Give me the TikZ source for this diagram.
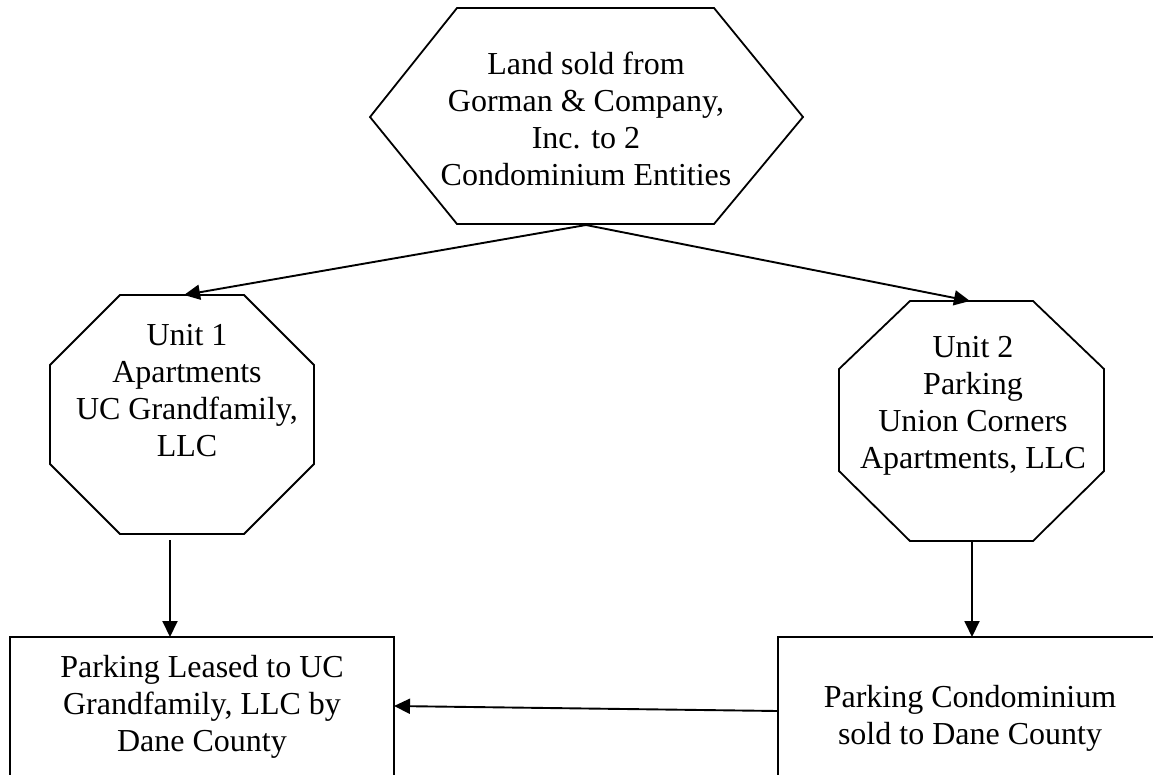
\documentclass[tikz,border=0pt]{standalone}
\usepackage{fontspec}
\setmainfont{Liberation Serif}
\usetikzlibrary{arrows.meta}
\tikzset{
  shapeline/.style={draw=black, line width=1.8pt, line join=miter},
  label text/.style={font=\fontsize{32}{37}\selectfont, align=center, inner sep=0pt},
  flow/.style={draw=black, line width=1.9pt, -{Triangle[length=16pt,width=15pt]}},
}
\begin{document}
\begin{tikzpicture}[x=1pt,y=-1pt]
\clip (0,0) rectangle (1153,774);
\fill[white] (0,0) rectangle (1153,774);
% hexagon
\draw[shapeline] (457,8) -- (714,8) -- (803,117) -- (714,224) -- (457,224) -- (370,117) -- cycle;
\node[label text] (land) at (586,119) {Land sold from\\Gorman \& Company,\\Inc. to 2\\Condominium Entities};
% left octagon
\draw[shapeline] (120,295) -- (244,295) -- (314,365) -- (314,464) -- (244,534) -- (120,534) -- (50,464) -- (50,365) -- cycle;
\node[label text] (unit1) at (187,391) {Unit 1\\Apartments\\UC Grandfamily,\\LLC};
% right octagon
\draw[shapeline] (910,301) -- (1033,301) -- (1104,369) -- (1104,471) -- (1033,541) -- (910,541) -- (839,471) -- (839,369) -- cycle;
\node[label text] (unit2) at (973,406) {Unit 2\\Parking\\Union Corners\\Apartments, LLC};
% boxes
\draw[shapeline] (10,800) -- (10,637) -- (394,637) -- (394,800);
\node[label text] (lease) at (202,707) {Parking Leased to UC\\Grandfamily, LLC by\\Dane County};
\draw[shapeline] (778,800) -- (778,637) -- (1180,637);
\node[label text] (sold) at (970,718) {Parking Condominium\\sold to Dane County};
% connector end points
\coordinate (hexbot) at (586,225);
\coordinate (oct1top) at (184,295);
\coordinate (oct2top) at (970,301);
\coordinate (oct1bot) at (170,540);
\coordinate (box1top) at (170,637);
\coordinate (oct2bot) at (972,541);
\coordinate (box2top) at (972,637);
\coordinate (box2left) at (778,711);
\coordinate (box1right) at (394,706);
\draw[flow] (hexbot) -- (oct1top);
\draw[flow] (hexbot) -- (oct2top);
\draw[flow] (oct1bot) -- (box1top);
\draw[flow] (oct2bot) -- (box2top);
\draw[flow] (box2left) -- (box1right);
\end{tikzpicture}
\end{document}
